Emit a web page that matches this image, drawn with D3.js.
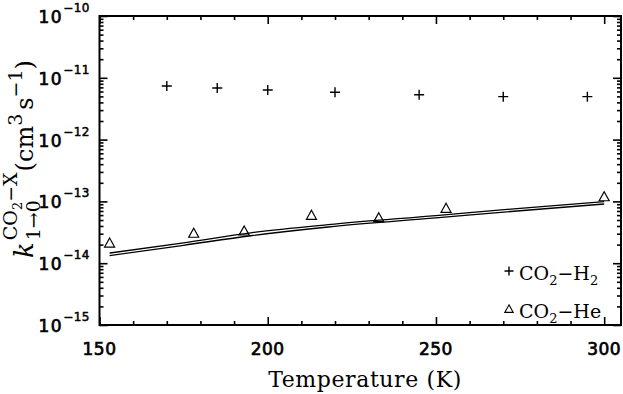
<!DOCTYPE html>
<html>
<head>
<meta charset="utf-8">
<script src="https://cdn.jsdelivr.net/npm/d3@7"></script>
<style>
  body { margin: 0; background: #fff; }
  svg { display: block; }
</style>
</head>
<body>
<svg id="chart" width="623" height="394"></svg>
<script>
// CO2-H2 (plus) measurements
const tempsH2 = [170, 185, 200, 220, 245, 270, 295]
const rateH2 = [7.36e-12, 6.84e-12, 6.35e-12, 5.83e-12, 5.33e-12, 4.95e-12, 4.95e-12]

// CO2-He (triangle) measurements
const tempsHe = [153, 178, 193, 213, 233, 253, 300]
const rateHe = [2.12e-14, 3.05e-14, 3.32e-14, 5.96e-14, 5.45e-14, 7.73e-14, 1.19e-13]

// two calculated curves
const fitTemps = [153, 175, 195, 218, 250, 275, 300]
const fitUpper = [1.46e-14, 2.14e-14, 3.10e-14, 4.20e-14, 5.90e-14, 7.73e-14, 9.89e-14]
const fitLower = [1.33e-14, 1.95e-14, 2.78e-14, 3.85e-14, 5.40e-14, 7.06e-14, 9.08e-14]

const xMajor = [150, 200, 250, 300]
const xMinor = [160, 170, 180, 190, 210, 220, 230, 240, 260, 270, 280, 290]
const yExponents = [-15, -14, -13, -12, -11, -10]

const plotLeft = 99.5, plotRight = 621, plotTop = 16, plotBottom = 325

const svg = d3.select("#chart")

const x = d3.scaleLinear().domain([150, 305]).range([plotLeft, plotRight])
const y = d3.scaleLog().domain([1e-15, 1e-10]).range([plotBottom, plotTop])

const yMinor = []
yExponents.slice(0, -1).forEach(e => {
    for (let m = 2; m <= 9; m++) yMinor.push(m * Math.pow(10, e))
})
const yMajor = yExponents.map(e => Math.pow(10, e))

// ticks (all pointing inwards, no labels from the axis itself)
const tickAxis = (axis, values, size, transform) => {
    svg.append("g")
        .attr("transform", transform)
        .call(axis.tickValues(values).tickSize(-size).tickFormat("").tickSizeOuter(0))
        .call(g => g.select(".domain").remove())
        .call(g => g.selectAll("line").attr("stroke", "#000").attr("stroke-width", 1.6))
}
tickAxis(d3.axisBottom(x), xMinor, 4, `translate(0,${plotBottom})`)
tickAxis(d3.axisBottom(x), xMajor, 8, `translate(0,${plotBottom})`)
tickAxis(d3.axisTop(x), xMinor, 4, `translate(0,${plotTop})`)
tickAxis(d3.axisTop(x), xMajor, 8, `translate(0,${plotTop})`)
tickAxis(d3.axisLeft(y), yMinor, 4, `translate(${plotLeft},0)`)
tickAxis(d3.axisLeft(y), yMajor, 8, `translate(${plotLeft},0)`)
tickAxis(d3.axisRight(y), yMinor, 4, `translate(${plotRight},0)`)
tickAxis(d3.axisRight(y), yMajor, 8, `translate(${plotRight},0)`)

svg.append("rect")
    .attr("x", plotLeft).attr("y", plotTop)
    .attr("width", plotRight - plotLeft).attr("height", plotBottom - plotTop)
    .attr("fill", "none").attr("stroke", "#000").attr("stroke-width", 2)

// tick labels
const sans = "DejaVu Sans, sans-serif"
svg.append("g").selectAll("text")
    .data(xMajor)
    .join("text")
    .attr("x", d => x(d))
    .attr("y", 355)
    .attr("text-anchor", "middle")
    .attr("font-family", sans)
    .attr("font-size", 17)
    .attr("stroke", "#000")
    .attr("stroke-width", 0.7)
    .attr("letter-spacing", 0.5)
    .text(d => d)

const yLabels = svg.append("g").selectAll("text")
    .data(yExponents)
    .join("text")
    .attr("x", 90)
    .attr("y", d => y(Math.pow(10, d)) + 7)
    .attr("text-anchor", "end")
    .attr("font-family", sans)
    .attr("font-size", 17)
    .attr("stroke", "#000")
    .attr("stroke-width", 0.7)
yLabels.append("tspan").attr("letter-spacing", 1.5).text("10")
yLabels.append("tspan")
    .attr("dy", -11)
    .attr("font-size", 12)
    .attr("stroke-width", 0.5)
    .attr("letter-spacing", 0.5)
    .text(d => "\u2212" + Math.abs(d))

// curves
const line = d3.line()
    .x((d, i) => x(fitTemps[i]))
    .y(d => y(d))
    .curve(d3.curveMonotoneX)

;[fitUpper, fitLower].forEach(values => {
    svg.append("path")
        .attr("d", line(values))
        .attr("fill", "none")
        .attr("stroke", "#000")
        .attr("stroke-width", 1.3)
})

// markers
const plusPath = s => `M${-s},0H${s}M0,${-s}V${s}`
const triPath = s => `M0,${-s}L${s},${s * 0.8}L${-s},${s * 0.8}Z`

svg.append("g").selectAll("path")
    .data(rateH2)
    .join("path")
    .attr("transform", (d, i) => `translate(${x(tempsH2[i])},${y(d)})`)
    .attr("d", plusPath(5))
    .attr("stroke", "#000")
    .attr("stroke-width", 1.4)

svg.append("g").selectAll("path")
    .data(rateHe)
    .join("path")
    .attr("transform", (d, i) => `translate(${x(tempsHe[i])},${y(d)})`)
    .attr("d", triPath(5))
    .attr("fill", "none")
    .attr("stroke", "#000")
    .attr("stroke-width", 1.2)

// legend
const serif = "DejaVu Serif, serif"
const legend = [
    {marker: plusPath(4.5), y: 280, sw: 1.4, rest: "H", sub2: "2"},
    {marker: triPath(4.2), y: 318, sw: 1.1, rest: "He", sub2: null},
]
legend.forEach(item => {
    svg.append("path")
        .attr("transform", `translate(509,${item.y - 9})`)
        .attr("d", item.marker)
        .attr("fill", "none")
        .attr("stroke", "#000")
        .attr("stroke-width", item.sw)
    const t = svg.append("text")
        .attr("x", 519).attr("y", item.y)
        .attr("font-family", serif)
        .attr("font-size", 19)
    t.append("tspan").text("CO")
    t.append("tspan").attr("font-size", 13).attr("dy", 5).text("2")
    t.append("tspan").attr("dy", -5).text("\u2212" + item.rest)
    if (item.sub2) t.append("tspan").attr("font-size", 13).attr("dy", 5).text(item.sub2)
})

// x title
svg.append("text")
    .attr("x", 365).attr("y", 387)
    .attr("text-anchor", "middle")
    .attr("font-family", serif)
    .attr("font-size", 22)
    .attr("letter-spacing", 0.6)
    .text("Temperature (K)")

// y title: k with stacked sub/superscript, then units
const title = svg.append("g").attr("transform", "translate(33,159) rotate(-90)")
const parts = []
const put = (txt, dx, dy, size, style) => {
    const el = title.append("text")
        .attr("x", dx).attr("y", dy)
        .attr("font-family", serif)
        .attr("font-size", size)
        .attr("font-style", style || "normal")
        .text(txt)
    parts.push(el)
    return el.node().getComputedTextLength()
}
let cx = 0
cx += put("k", cx, 0, 26, "italic") + 2
const subW = put("1\u21920", cx, 7, 19)
let supW = put("CO", cx, -16, 19)
supW += put("2", cx + supW, -11, 13)
supW += put("\u2212X", cx + supW, -16, 19)
cx += Math.max(subW, supW) + 1
cx += put("(cm", cx, 0, 24)
cx += put("3", cx, -11, 19) + 4
cx += put("s", cx, 0, 24)
cx += put("\u22121", cx, -11, 19)
cx += put(")", cx, 0, 24)
parts.forEach(el => el.attr("x", +el.attr("x") - cx / 2))
</script>
</body>
</html>
